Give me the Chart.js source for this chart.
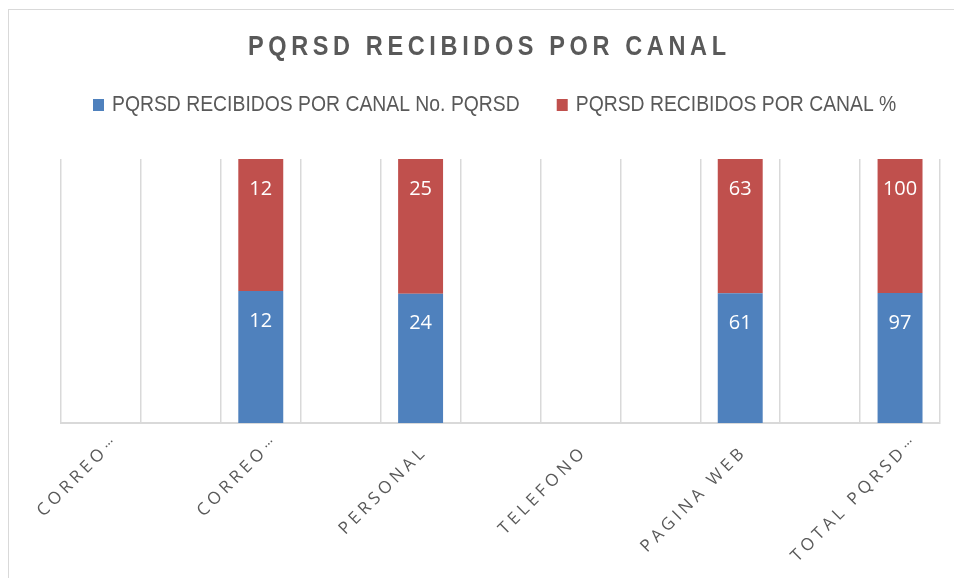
<!DOCTYPE html>
<html>
<head>
<meta charset="utf-8">
<script src="https://cdn.jsdelivr.net/npm/chart.js@4/dist/chart.umd.min.js"></script>
<style>
  html, body { margin: 0; padding: 0; background: #ffffff; }
  #wrap { position: relative; width: 954px; height: 578px; overflow: hidden; }
  #frame { position: absolute; left: 8px; top: 9px; width: 1000px; height: 700px; border: 1px solid #d9d9d9; box-sizing: border-box; }
  canvas { position: absolute; left: 0; top: 0; }
</style>
</head>
<body>
<div id="wrap">
  <div id="frame"></div>
  <canvas id="c" width="954" height="578"></canvas>
</div>
<script>
const chartTitle = 'PQRSD RECIBIDOS POR CANAL';
const categories = ['CORREO…', '', 'CORREO…', '', 'PERSONAL', '', 'TELEFONO', '', 'PAGINA WEB', '', 'TOTAL PQRSD…'];
const seriesNames = ['PQRSD RECIBIDOS POR CANAL No. PQRSD', 'PQRSD RECIBIDOS POR CANAL %'];
const numPqrsd = [null, null, 12, null, 24, null, null, null, 61, null, 97];
const pctPqrsd = [null, null, 12, null, 25, null, null, null, 63, null, 100];
const colors = ['#4f81bd', '#c0504d'];

// 100% stacked shares derived from the values
function share(a, b) {
  return a.map((v, i) => (v == null || b[i] == null) ? null : v / (v + b[i]) * 100);
}
const rawSeries = [numPqrsd, pctPqrsd];
const shareSeries = [share(numPqrsd, pctPqrsd), share(pctPqrsd, numPqrsd)];

const TEXT = '#595959';
const SANS = '"Liberation Sans", Arial, sans-serif';
const OPEN = '"Open Sans", "Liberation Sans", sans-serif';

const decor = {
  id: 'decor',
  afterDatasetsDraw(chart) {
    const ctx = chart.ctx;
    ctx.save();
    ctx.fillStyle = '#ffffff';
    ctx.font = '20px ' + OPEN;
    ctx.textAlign = 'center';
    ctx.textBaseline = 'middle';
    chart.data.datasets.forEach((ds, di) => {
      const meta = chart.getDatasetMeta(di);
      meta.data.forEach((bar, i) => {
        const v = rawSeries[di][i];
        if (v == null) return;
        ctx.fillText(String(v), bar.x, bar.y + 30);
      });
    });
    ctx.restore();
  },
  afterDraw(chart) {
    const ctx = chart.ctx;
    const area = chart.chartArea;
    // title (condensed bold, letter-spaced)
    ctx.save();
    ctx.fillStyle = TEXT;
    ctx.font = 'bold 28px ' + SANS;
    ctx.letterSpacing = '5.5px';
    ctx.textAlign = 'left';
    ctx.textBaseline = 'middle';
    const tsx = 0.84;
    const tw = (ctx.measureText(chartTitle).width - 5.5) * tsx;
    ctx.translate(487 - tw / 2, 47);
    ctx.scale(tsx, 1);
    ctx.fillText(chartTitle, 0, 0);
    ctx.restore();

    // legend (condensed)
    ctx.save();
    ctx.font = '22px ' + SANS;
    ctx.textBaseline = 'middle';
    ctx.textAlign = 'left';
    const lsx = 0.88;
    let x = 93;
    const ly = 105;
    seriesNames.forEach((name, i) => {
      ctx.fillStyle = colors[i];
      ctx.fillRect(x, ly - 6, 11, 12);
      ctx.fillStyle = TEXT;
      ctx.save();
      ctx.translate(x + 19, ly);
      ctx.scale(lsx, 1);
      ctx.fillText(name, 0, 0);
      ctx.restore();
      x += 19 + ctx.measureText(name).width * lsx + 37;
    });
    ctx.restore();

    // category labels, rotated
    const xs = chart.scales.x;
    ctx.save();
    ctx.fillStyle = TEXT;
    ctx.textBaseline = 'middle';
    categories.forEach((lab, i) => {
      if (!lab) return;
      const px = xs.getPixelForValue(i);
      const cut = lab.endsWith('…');
      const main = cut ? lab.slice(0, -1) : lab;
      ctx.save();
      ctx.translate(px + 4, area.bottom + 26);
      ctx.rotate(-Math.PI / 4);
      ctx.font = '17px ' + OPEN;
      ctx.letterSpacing = '4px';
      ctx.textAlign = 'right';
      ctx.fillText(main, 0, 0);
      if (cut) {
        ctx.letterSpacing = '0px';
        ctx.textAlign = 'left';
        ctx.font = '14px ' + OPEN;
        ctx.fillText('…', 1, -4);
      }
      ctx.restore();
    });
    ctx.restore();
  }
};

new Chart(document.getElementById('c'), {
  type: 'bar',
  data: {
    labels: categories,
    datasets: seriesNames.map((name, i) => ({
      label: name,
      data: shareSeries[i],
      backgroundColor: colors[i],
      borderWidth: 0,
      barPercentage: 0.5625,
      categoryPercentage: 1.0
    }))
  },
  options: {
    responsive: false,
    animation: false,
    devicePixelRatio: 1,
    layout: { padding: { left: 61, right: 14, top: 159, bottom: 155 } },
    plugins: {
      legend: { display: false },
      title: { display: false },
      tooltip: { enabled: false }
    },
    scales: {
      x: {
        stacked: true,
        offset: true,
        grid: { display: true, offset: true, color: '#d9d9d9', lineWidth: 1.5, drawTicks: false },
        border: { display: true, color: '#d9d9d9', width: 2 },
        ticks: { display: false }
      },
      y: {
        stacked: true,
        display: false,
        min: 0,
        max: 100
      }
    }
  },
  plugins: [decor]
});
</script>
</body>
</html>
